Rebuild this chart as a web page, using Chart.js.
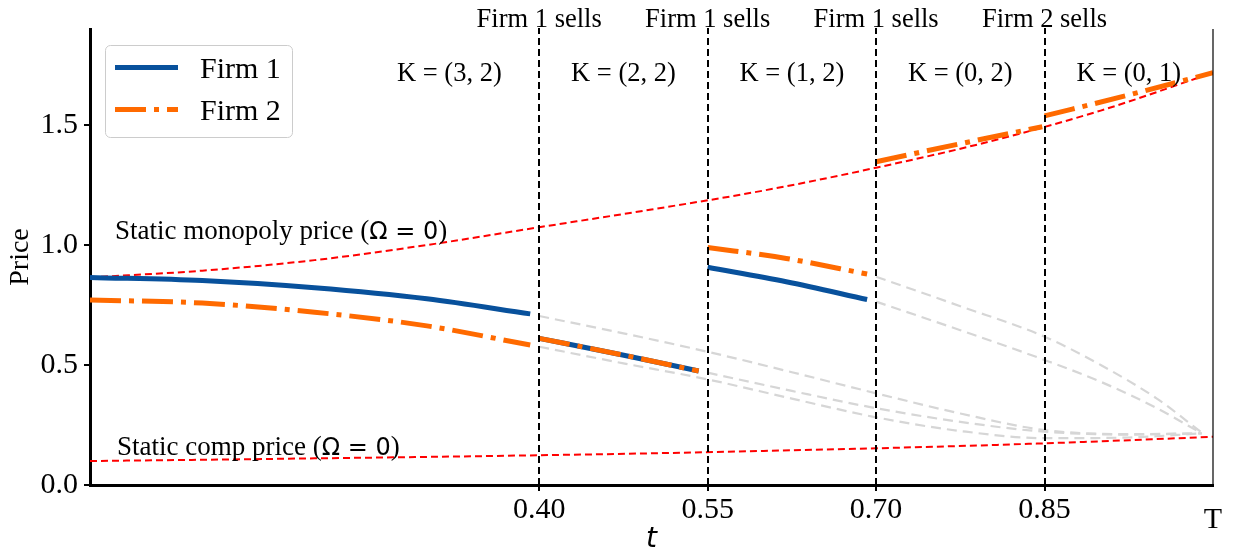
<!DOCTYPE html>
<html>
<head>
<meta charset="utf-8">
<script src="https://cdn.jsdelivr.net/npm/chart.js@4.4.1/dist/chart.umd.min.js"></script>
<style>
  html, body { margin: 0; padding: 0; background: #fff; }
  #wrap { width: 1233px; height: 552px; }
</style>
</head>
<body>
<div id="wrap"><canvas id="priceChart"></canvas></div>
<script>
// static benchmark prices
const tStatic = [0, 0.1, 0.2, 0.3, 0.4, 0.5, 0.6, 0.7, 0.8, 0.9, 1.0];
const monopolyPrice = [0.865, 0.893, 0.937, 1.0, 1.074, 1.148, 1.227, 1.322, 1.43, 1.56, 1.718];
const compPrice = [0.1, 0.105, 0.111, 0.117, 0.124, 0.132, 0.142, 0.153, 0.166, 0.182, 0.201];

// equilibrium path, one piece per inventory state K
const tK32 = [0, 0.1, 0.2, 0.3, 0.392];
const firm1K32 = [0.865, 0.852, 0.822, 0.776, 0.713];
const firm2K32 = [0.771, 0.758, 0.72, 0.663, 0.583];

const tK22 = [0.4, 0.47, 0.542];
const firm1K22 = [0.611, 0.546, 0.475];
const firm2K22 = [0.611, 0.546, 0.475];

const tK12 = [0.55, 0.62, 0.692];
const firm1K12 = [0.907, 0.847, 0.773];
const firm2K12 = [0.99, 0.944, 0.879];

const tK02 = [0.7, 0.775, 0.848];
const firm2K02 = [1.347, 1.422, 1.493];

const tK01 = [0.85, 0.925, 1.0];
const firm2K01 = [1.538, 1.625, 1.718];

// off-path prices (grey)
const tOff1 = [0.4, 0.475, 0.55, 0.625, 0.7, 0.775, 0.85, 0.925, 0.99];
const offA = [0.704, 0.632, 0.555, 0.47, 0.382, 0.298, 0.229, 0.212, 0.215];
const offB = [0.576, 0.507, 0.44, 0.36, 0.282, 0.225, 0.195, 0.198, 0.215];
const tOff2 = [0.55, 0.625, 0.7, 0.775, 0.85, 0.925, 0.99];
const offC = [0.468, 0.392, 0.32, 0.263, 0.222, 0.21, 0.215];
const tOff3 = [0.7, 0.775, 0.85, 0.9, 0.95, 0.99];
const offD = [0.868, 0.745, 0.618, 0.5, 0.36, 0.218];
const offE = [0.764, 0.645, 0.521, 0.43, 0.32, 0.215];

const xTicks = [0.4, 0.55, 0.7, 0.85];
const yTicks = [0, 0.5, 1.0, 1.5];
const sellTimes = [0.4, 0.55, 0.7, 0.85];
const sellLabels = ['Firm 1 sells', 'Firm 1 sells', 'Firm 1 sells', 'Firm 2 sells'];
const stateLabels = ['K = (3, 2)', 'K = (2, 2)', 'K = (1, 2)', 'K = (0, 2)', 'K = (0, 1)'];

const BLUE = '#08519c';
const ORANGE = '#ff6a00';
const SERIF = '"Liberation Serif", "Times New Roman", serif';
const MATH = '"DejaVu Sans", sans-serif';
const DASHDOT = [31, 8, 5, 8];

const pts = (ts, ys) => ts.map((t, i) => ({ x: t, y: ys[i] }));

const firm1 = (ts, ys) => ({
  data: pts(ts, ys), borderColor: BLUE, borderWidth: 5, order: 1
});
const firm2 = (ts, ys) => ({
  data: pts(ts, ys), borderColor: ORANGE, borderWidth: 5, borderDash: DASHDOT, order: 0
});
const staticLine = ys => ({
  data: pts(tStatic, ys), borderColor: '#ff0000', borderWidth: 2, borderDash: [7, 4], order: 2
});
const offPath = (ts, ys) => ({
  data: pts(ts, ys), borderColor: '#d6d6d6', borderWidth: 2.2, borderDash: [10, 6], order: 3
});

function drawParts(ctx, parts, x, y) {
  ctx.textAlign = 'left';
  ctx.textBaseline = 'alphabetic';
  parts.forEach(p => {
    ctx.font = p[1];
    ctx.fillText(p[0], x, y);
    x += ctx.measureText(p[0]).width;
  });
}

const annotations = {
  id: 'annotations',
  afterDatasetsDraw(chart) {
    const { ctx, chartArea: area } = chart;
    const xs = chart.scales.x;
    ctx.save();

    // thin right spine at T
    ctx.strokeStyle = '#000';
    ctx.lineWidth = 1.2;
    ctx.beginPath();
    ctx.moveTo(area.right, area.top);
    ctx.lineTo(area.right, area.bottom);
    ctx.stroke();

    // selling times
    ctx.lineWidth = 2;
    ctx.setLineDash([7, 4]);
    sellTimes.forEach(t => {
      const px = Math.round(xs.getPixelForValue(t));
      ctx.beginPath();
      ctx.moveTo(px, area.bottom);
      ctx.lineTo(px, area.top - 1);
      ctx.stroke();
    });
    ctx.setLineDash([]);

    ctx.fillStyle = '#000';
    ctx.textAlign = 'center';
    ctx.textBaseline = 'alphabetic';
    ctx.font = '26.5px ' + SERIF;
    sellTimes.forEach((t, i) => {
      ctx.fillText(sellLabels[i], xs.getPixelForValue(t), 27);
    });
    const mids = [0.32, 0.475, 0.625, 0.775, 0.925];
    stateLabels.forEach((s, i) => {
      ctx.fillText(s, xs.getPixelForValue(mids[i]), 81);
    });

    ctx.font = '30px ' + SERIF;
    ctx.fillText('T', area.right, 528);

    drawParts(ctx, [
      ['Static monopoly price (', '27px ' + SERIF],
      ['Ω = 0', '24px ' + MATH],
      [')', '27px ' + SERIF]
    ], 115, 239);
    drawParts(ctx, [
      ['Static comp price (', '27px ' + SERIF],
      ['Ω = 0', '24px ' + MATH],
      [')', '27px ' + SERIF]
    ], 117, 455);

    // legend
    ctx.beginPath();
    ctx.roundRect(105.5, 45.5, 187, 92, 5);
    ctx.fillStyle = 'rgba(255,255,255,0.8)';
    ctx.fill();
    ctx.strokeStyle = '#cccccc';
    ctx.lineWidth = 1;
    ctx.stroke();

    ctx.lineWidth = 5;
    ctx.strokeStyle = BLUE;
    ctx.beginPath();
    ctx.moveTo(115, 67.5);
    ctx.lineTo(178, 67.5);
    ctx.stroke();
    ctx.strokeStyle = ORANGE;
    ctx.setLineDash(DASHDOT);
    ctx.beginPath();
    ctx.moveTo(115, 109.5);
    ctx.lineTo(178, 109.5);
    ctx.stroke();
    ctx.setLineDash([]);

    ctx.fillStyle = '#000';
    ctx.textAlign = 'left';
    ctx.font = '30px ' + SERIF;
    ctx.fillText('Firm 1', 200, 78);
    ctx.fillText('Firm 2', 200, 120);

    ctx.restore();
  }
};

new Chart(document.getElementById('priceChart'), {
  type: 'line',
  data: {
    datasets: [
      firm2(tK32, firm2K32), firm2(tK22, firm2K22), firm2(tK12, firm2K12),
      firm2(tK02, firm2K02), firm2(tK01, firm2K01),
      firm1(tK32, firm1K32), firm1(tK22, firm1K22), firm1(tK12, firm1K12),
      staticLine(monopolyPrice), staticLine(compPrice),
      offPath(tOff1, offA), offPath(tOff1, offB), offPath(tOff2, offC),
      offPath(tOff3, offD), offPath(tOff3, offE)
    ]
  },
  options: {
    responsive: true,
    maintainAspectRatio: false,
    animation: false,
    devicePixelRatio: 1,
    layout: { padding: { top: 29, right: 20, bottom: 0, left: 0 } },
    elements: {
      point: { radius: 0 },
      line: { fill: false, cubicInterpolationMode: 'monotone' }
    },
    scales: {
      x: {
        type: 'linear',
        min: 0,
        max: 1,
        afterBuildTicks: s => { s.ticks = xTicks.map(v => ({ value: v })); },
        afterFit: s => { s.height = 67; },
        ticks: {
          callback: v => v.toFixed(2),
          font: { family: SERIF, size: 30 },
          color: '#000',
          padding: 1,
          maxRotation: 0,
          autoSkip: false
        },
        grid: { drawOnChartArea: false, tickLength: 6, color: '#000', lineWidth: 2 },
        border: { color: '#000', width: 3 },
        title: {
          display: true,
          text: 't',
          font: { family: MATH, size: 28, style: 'italic' },
          color: '#000',
          padding: { top: 0, bottom: -5 }
        }
      },
      y: {
        min: 0,
        max: 1.9,
        afterBuildTicks: s => { s.ticks = yTicks.map(v => ({ value: v })); },
        afterFit: s => { s.width = 90; },
        ticks: {
          callback: v => v.toFixed(1),
          font: { family: SERIF, size: 30 },
          color: '#000',
          padding: 6
        },
        grid: { drawOnChartArea: false, tickLength: 6, color: '#000', lineWidth: 2 },
        border: { color: '#000', width: 3 },
        title: {
          display: true,
          text: 'Price',
          font: { family: SERIF, size: 28 },
          color: '#000',
          padding: { top: 4, bottom: 0 }
        }
      }
    },
    plugins: {
      legend: { display: false },
      tooltip: { enabled: false }
    }
  },
  plugins: [annotations]
});
</script>
</body>
</html>
